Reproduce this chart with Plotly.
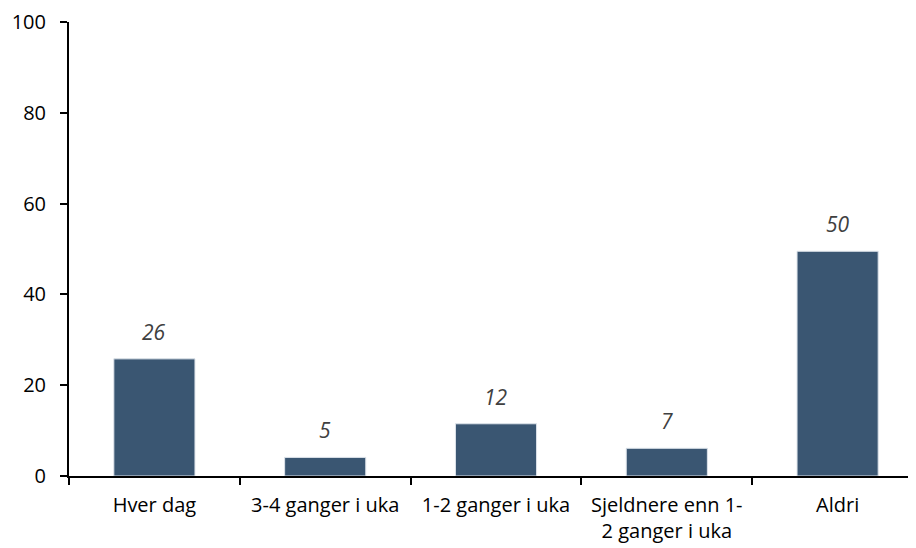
import plotly.graph_objects as go

categories = ["Hver dag", "3-4 ganger i uka", "1-2 ganger i uka",
              "Sjeldnere enn 1-<br>2 ganger i uka", "Aldri"]
values = [25.8, 4.1, 11.5, 6.1, 49.5]
labels = ["26", "5", "12", "7", "50"]
y_ticks = [0, 20, 40, 60, 80, 100]

fig = go.Figure()
fig.add_trace(go.Bar(
    x=categories, y=values,
    marker=dict(color="#3A5672", line=dict(color="#DDE3EA", width=1)),
    width=0.475, hoverinfo="skip",
))
for c, v, t in zip(categories, values, labels):
    fig.add_annotation(x=c, y=v, text="<i>" + t + "</i>", showarrow=False,
                       yshift=27,
                       font=dict(family="Open Sans", size=21, color="#404040"))

fig.update_layout(
    width=915, height=540,
    margin=dict(l=61, r=0, t=14, b=72),
    plot_bgcolor="white", paper_bgcolor="white",
    showlegend=False,
    font=dict(family="Open Sans", size=20, color="#000000"),
)
fig.update_xaxes(
    range=[-0.5, 4.5], showline=True, linecolor="black", linewidth=2,
    ticks="outside", ticklen=7, tickwidth=2, tickcolor="black",
    tickson="boundaries", showgrid=False, tickfont=dict(size=20),
    ticklabelstandoff=10, automargin=False,
)
fig.update_yaxes(
    range=[0, 100], tickvals=y_ticks, showline=True, linecolor="black",
    linewidth=2, ticks="outside", ticklen=7, tickwidth=2, tickcolor="black",
    showgrid=False, zeroline=False, tickfont=dict(size=20),
    ticklabelstandoff=10, automargin=False,
)
fig.write_html("out.html")
